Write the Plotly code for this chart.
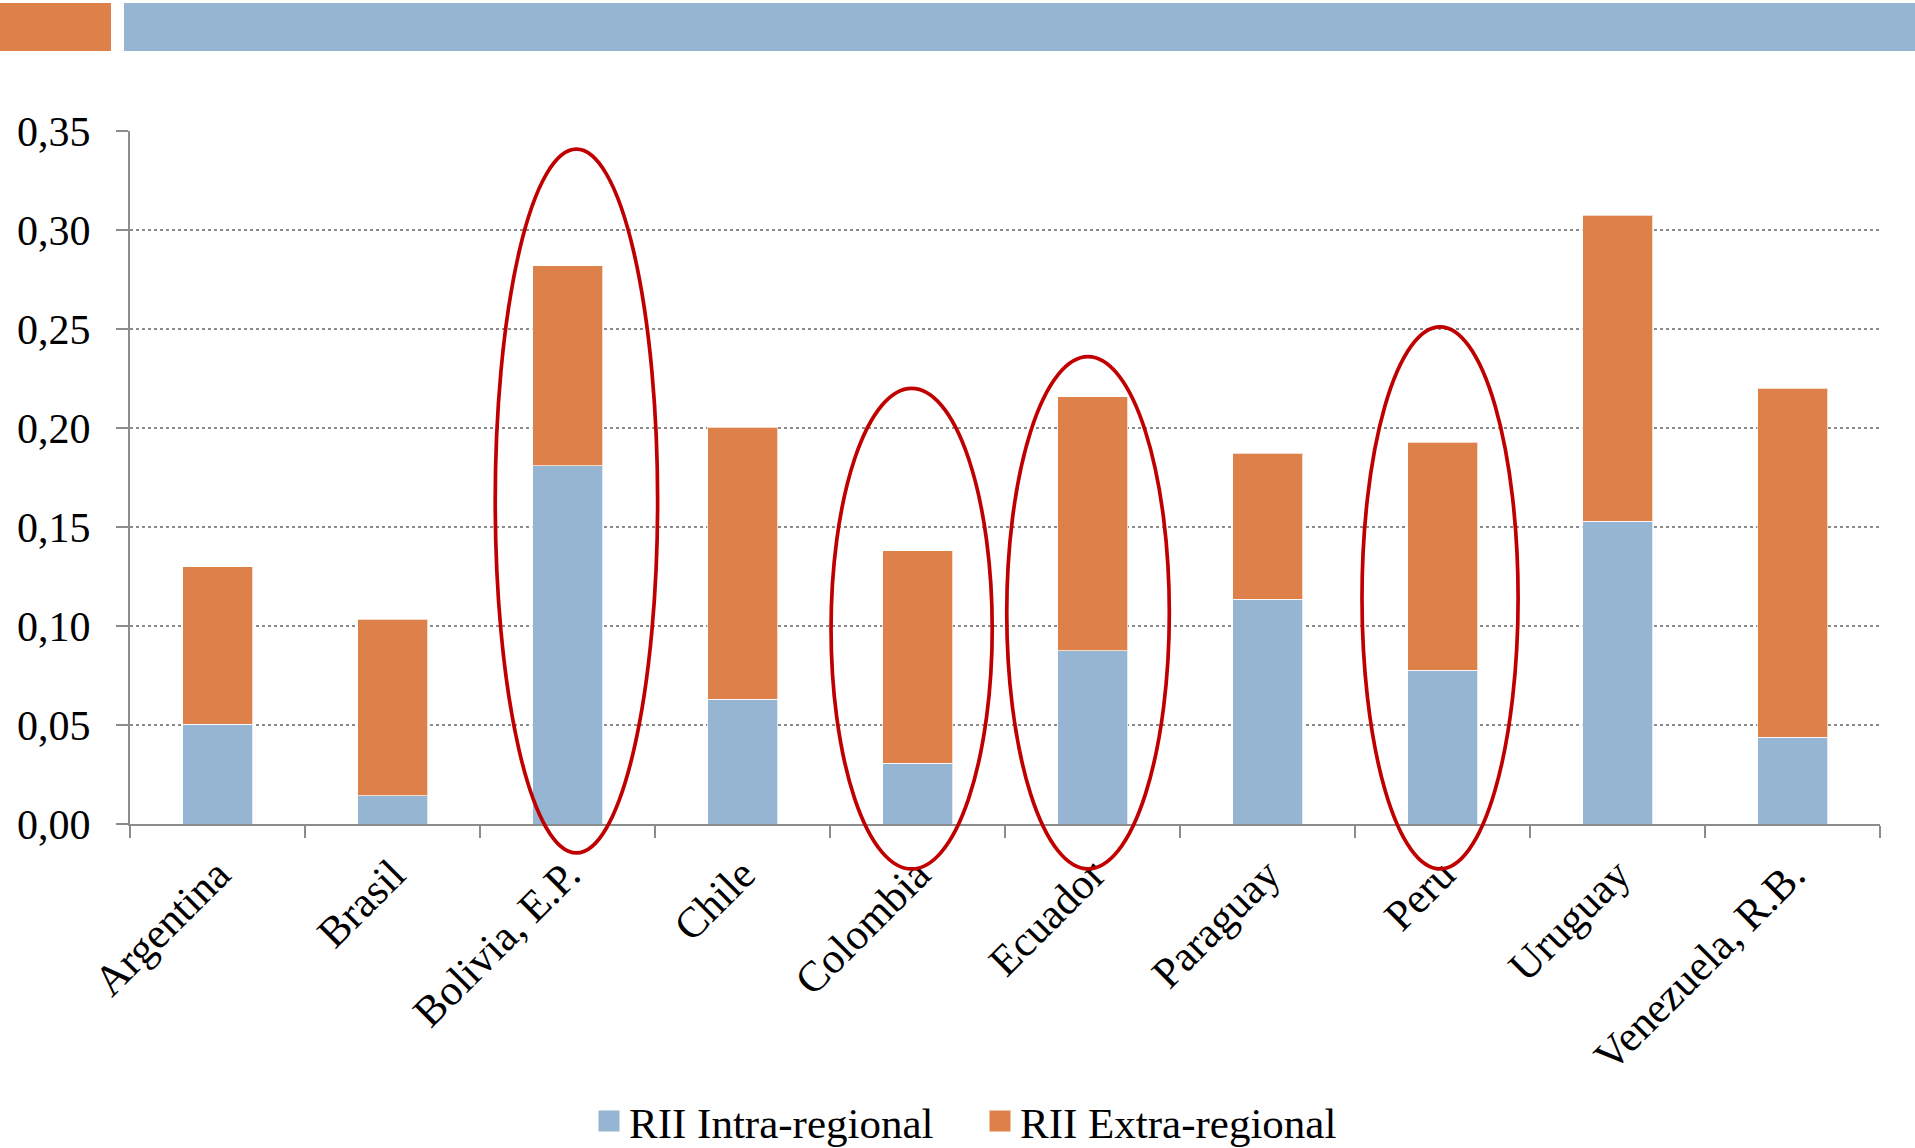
import plotly.graph_objects as go

countries = ["Argentina", "Brasil", "Bolivia, E.P.", "Chile", "Colombia",
             "Ecuador", "Paraguay", "Peru", "Uruguay", "Venezuela, R.B."]
intra = [0.0505, 0.0142, 0.181, 0.0629, 0.0308, 0.0875, 0.1134, 0.0776, 0.1528, 0.0438]
total = [0.130, 0.1035, 0.282, 0.2003, 0.138, 0.2157, 0.1873, 0.1929, 0.3075, 0.220]
extra = [round(t - i, 4) for t, i in zip(total, intra)]

series_names = ["RII Intra-regional", "RII Extra-regional"]
y_ticks = [0.00, 0.05, 0.10, 0.15, 0.20, 0.25, 0.30, 0.35]

# highlighted countries (Bolivia, Colombia, Ecuador, Peru): ellipse bounds in data units
ell_x0 = [1.587, 3.506, 4.510, 6.540]
ell_x1 = [2.515, 4.427, 5.439, 7.432]
ell_y0 = [-0.0146, -0.0227, -0.0227, -0.0227]
ell_y1 = [0.3408, 0.2200, 0.2360, 0.2511]

BLUE = "#95B5D3"
ORANGE = "#DE8049"
RED = "#C00000"
GRID = "#8C8C8C"
FONT = "Liberation Serif"
colors = [BLUE, ORANGE]

W, H = 1915, 1148
L, R, T, B = 130, 35, 131, 324
YMAX = 0.35
NCAT = len(countries)

fig = go.Figure()
for name, vals, col in zip(series_names, [intra, extra], colors):
    fig.add_trace(go.Bar(x=countries, y=vals, name=name, legendgroup=name,
                         showlegend=False,
                         marker=dict(color=col, line=dict(color="rgba(255,255,255,0.7)", width=1))))
# legend entries (larger square swatches)
for name, col in zip(series_names, colors):
    fig.add_trace(go.Scatter(x=[countries[0]], y=[None], mode="markers", name=name,
                             legendgroup=name, hoverinfo="skip",
                             marker=dict(symbol="square", size=16, color=col,
                                         line=dict(color=col, width=5))))

shapes = []
for x0, x1, y0, y1 in zip(ell_x0, ell_x1, ell_y0, ell_y1):
    shapes.append(dict(type="circle", xref="x domain", yref="y domain",
                       x0=(x0 + 0.5) / NCAT, x1=(x1 + 0.5) / NCAT,
                       y0=y0 / YMAX, y1=y1 / YMAX,
                       line=dict(color=RED, width=3.7), layer="above"))

pw = W - L - R
ph = H - T - B
def px_x(p):
    return (p - L) / pw
def px_y(p):
    return (H - B - p) / ph

# decorative header bars
shapes.append(dict(type="rect", xref="paper", yref="paper",
                   x0=px_x(0), x1=px_x(111), y0=px_y(51), y1=px_y(3),
                   fillcolor=ORANGE, line=dict(width=0)))
shapes.append(dict(type="rect", xref="paper", yref="paper",
                   x0=px_x(124), x1=px_x(W), y0=px_y(51), y1=px_y(3),
                   fillcolor=BLUE, line=dict(width=0)))

fig.update_layout(
    width=W, height=H,
    margin=dict(l=L, r=R, t=T, b=B, autoexpand=False),
    paper_bgcolor="white", plot_bgcolor="white",
    barmode="stack", bargap=0.6,
    separators=",.",
    font=dict(family=FONT, color="black", size=42),
    shapes=shapes,
    showlegend=True,
    legend=dict(orientation="h", xref="container", yref="container",
                traceorder="normal",
                x=589 / W, xanchor="left", y=1 - 1121 / H, yanchor="middle",
                font=dict(family=FONT, size=43), entrywidth=346,
                bgcolor="rgba(0,0,0,0)"),
    xaxis=dict(type="category", range=[-0.5, NCAT - 0.5], showline=True,
               linecolor=GRID, linewidth=2, ticks="outside", tickson="boundaries",
               ticklen=12, tickwidth=2, tickcolor=GRID, tickangle=-45,
               ticklabelstandoff=6, automargin=False,
               tickfont=dict(family=FONT, size=43), showgrid=False),
    yaxis=dict(range=[0, YMAX], tickvals=y_ticks, tickformat=".2f",
               showline=True, linecolor=GRID, linewidth=2, ticks="outside",
               ticklen=12, tickwidth=2, tickcolor=GRID, automargin=False,
               showgrid=True, gridcolor=GRID, gridwidth=2, griddash="dot",
               zeroline=False, ticklabelstandoff=17,
               tickfont=dict(family=FONT, size=42)),
)

fig.write_html("out.html")
